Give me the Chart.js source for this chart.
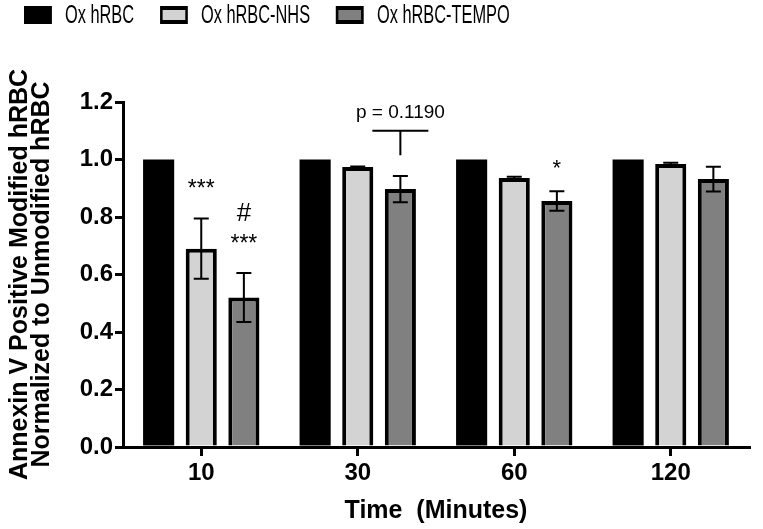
<!DOCTYPE html>
<html lang="en">
<head>
    <meta charset="UTF-8">
    <title>Annexin V Positive Modified hRBC</title>
    <script src="https://cdn.jsdelivr.net/npm/chart.js"></script>
    <style>
        body {
            margin: 0;
            background: #fff;
        }
        #wrap {
            position: relative;
            width: 763px;
            height: 529px;
        }
        /* the figure's legend type is very condensed */
        #legend {
            position: absolute;
            left: 24px;
            top: -1px;
            display: flex;
            align-items: center;
            font-family: 'Liberation Sans', Arial, sans-serif;
            font-size: 26px;
            color: #000;
            transform: scaleX(0.63);
            transform-origin: 0 0;
            white-space: nowrap;
        }
        .item {
            display: flex;
            align-items: center;
            margin-right: 41px;
        }
        .swatch {
            width: 44px;
            height: 18px;
            box-sizing: border-box;
            border: 4px solid #000;
            margin-right: 21px;
        }
    </style>
</head>
<body>
    <div id="wrap">
        <canvas id="annexinChart" width="763" height="529"></canvas>
        <div id="legend"></div>
    </div>

    <script>
        // data
        const timeLabels = ['10', '30', '60', '120'];
        const seriesNames = ['Ox hRBC', 'Ox hRBC-NHS', 'Ox hRBC-TEMPO'];
        const oxHrbc = [1.0, 1.0, 1.0, 1.0];
        const oxNhs = [0.69, 0.974, 0.936, 0.984];
        const oxNhsErr = [0.105, 0.002, 0.004, 0.005];
        const oxTempo = [0.52, 0.897, 0.856, 0.932];
        const oxTempoErr = [0.085, 0.046, 0.034, 0.043];

        // significance marks: [category, dataset, value, text]
        const marks = [
            [0, 1, 0.918, '***'],
            [0, 2, 0.817, '#'],
            [0, 2, 0.727, '***'],
            [2, 2, 0.988, '*']
        ];
        // bracket over 30 min TEMPO bar
        const pBracket = { cat: 1, ds: 2, top: 1.1, bottom: 1.015, text: 'p = 0.1190' };

        const sans = "'Liberation Sans', Arial, sans-serif";
        const markFonts = { '***': '23px ' + sans, '#': '26px ' + sans, '*': '22px ' + sans };

        const errorBars = {
            id: 'errorBars',
            afterDatasetsDraw(chart) {
                const ctx = chart.ctx;
                const y = chart.scales.y;
                ctx.save();
                ctx.strokeStyle = '#000';
                ctx.lineWidth = 2;
                chart.data.datasets.forEach((ds, i) => {
                    if (!ds.errors) return;
                    chart.getDatasetMeta(i).data.forEach((bar, j) => {
                        const e = ds.errors[j];
                        if (!e) return;
                        const v = ds.data[j];
                        const yt = y.getPixelForValue(v + e);
                        const yb = y.getPixelForValue(v - e);
                        ctx.beginPath();
                        ctx.moveTo(bar.x, yt);
                        ctx.lineTo(bar.x, yb);
                        ctx.moveTo(bar.x - 7.5, yt);
                        ctx.lineTo(bar.x + 7.5, yt);
                        ctx.moveTo(bar.x - 7.5, yb);
                        ctx.lineTo(bar.x + 7.5, yb);
                        ctx.stroke();
                    });
                });

                // significance text
                ctx.fillStyle = '#000';
                ctx.textAlign = 'center';
                ctx.textBaseline = 'alphabetic';
                marks.forEach(([cat, ds, val, txt]) => {
                    const bar = chart.getDatasetMeta(ds).data[cat];
                    ctx.font = markFonts[txt];
                    const size = parseInt(ctx.font, 10);
                    const shift = txt === '#' ? 0.36 : 0.57;
                    ctx.fillText(txt, bar.x, y.getPixelForValue(val) + size * shift);
                });

                // p value bracket
                const pb = chart.getDatasetMeta(pBracket.ds).data[pBracket.cat];
                const yTop = y.getPixelForValue(pBracket.top);
                ctx.beginPath();
                ctx.moveTo(pb.x - 28, yTop);
                ctx.lineTo(pb.x + 28, yTop);
                ctx.moveTo(pb.x, yTop);
                ctx.lineTo(pb.x, y.getPixelForValue(pBracket.bottom));
                ctx.stroke();
                ctx.font = '19px ' + sans;
                ctx.textBaseline = 'middle';
                ctx.fillText(pBracket.text, pb.x, yTop - 18);
                ctx.restore();
            }
        };

        const ctx = document.getElementById('annexinChart').getContext('2d');
        const chart = new Chart(ctx, {
            type: 'bar',
            data: {
                labels: timeLabels,
                datasets: [
                    { label: seriesNames[0], data: oxHrbc, backgroundColor: '#000', borderColor: '#000', borderWidth: 0 },
                    { label: seriesNames[1], data: oxNhs, errors: oxNhsErr, backgroundColor: '#d3d3d3', borderColor: '#000', borderWidth: 4 },
                    { label: seriesNames[2], data: oxTempo, errors: oxTempoErr, backgroundColor: '#808080', borderColor: '#000', borderWidth: 4 }
                ]
            },
            options: {
                responsive: false,
                animation: false,
                categoryPercentage: 0.817,
                barPercentage: 0.73,
                layout: { padding: { top: 102, right: 14, left: 0, bottom: 0 } },
                plugins: {
                    legend: { display: false },
                    tooltip: { enabled: false }
                },
                scales: {
                    x: {
                        grid: { drawOnChartArea: false, drawTicks: true, tickLength: 9, offset: false, color: '#000', lineWidth: 3 },
                        border: { color: '#000', width: 3 },
                        ticks: { color: '#000', padding: 3, font: { family: sans, size: 24, weight: 'bold' } },
                        title: {
                            display: true,
                            text: 'Time  (Minutes)',
                            color: '#000',
                            font: { family: sans, size: 25, weight: 'bold', lineHeight: 1 },
                            padding: { top: 0, bottom: 5 }
                        },
                        afterFit(scale) { scale.height = 82; }
                    },
                    y: {
                        min: 0,
                        max: 1.2,
                        grid: { drawOnChartArea: false, drawTicks: true, tickLength: 8, color: '#000', lineWidth: 3 },
                        border: { color: '#000', width: 3 },
                        ticks: {
                            stepSize: 0.2,
                            color: '#000',
                            padding: 2,
                            font: { family: sans, size: 24, weight: 'bold' },
                            callback: v => v.toFixed(1)
                        },
                        title: {
                            display: true,
                            text: ['Annexin V Positive Modified hRBC', 'Normalized to Unmodified hRBC'],
                            color: '#000',
                            font: { family: sans, size: 25, weight: 'bold', lineHeight: 0.88 },
                            padding: { top: 9, bottom: 0 }
                        },
                        afterFit(scale) { scale.width = 123; }
                    }
                }
            },
            plugins: [errorBars]
        });

        // legend built from the datasets
        const legend = document.getElementById('legend');
        chart.data.datasets.forEach(ds => {
            const item = document.createElement('div');
            item.className = 'item';
            const sw = document.createElement('span');
            sw.className = 'swatch';
            sw.style.background = ds.backgroundColor;
            const label = document.createElement('span');
            label.textContent = ds.label;
            item.appendChild(sw);
            item.appendChild(label);
            legend.appendChild(item);
        });
    </script>
</body>
</html>
